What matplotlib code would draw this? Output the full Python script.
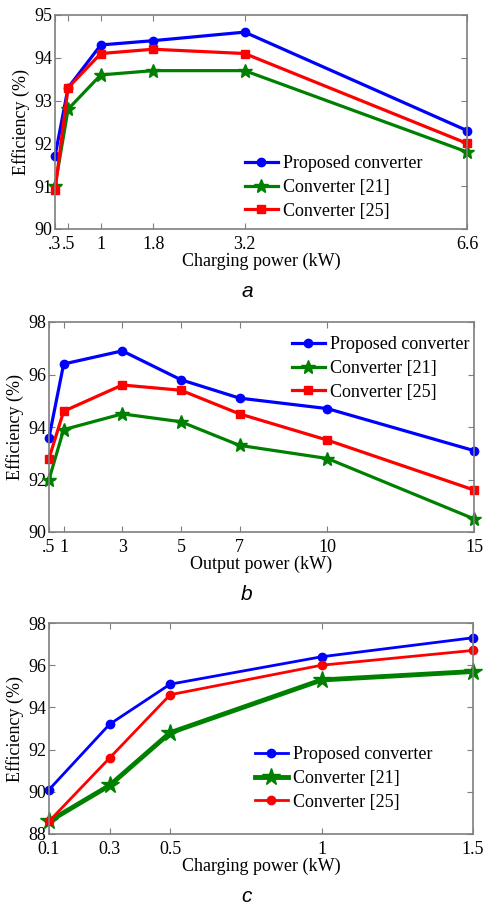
import matplotlib
matplotlib.use("Agg")
import matplotlib.pyplot as plt

plt.rcParams["font.family"] = ["Liberation Serif", "DejaVu Serif"]
plt.rcParams["font.size"] = 13

# panel a
xa = [0.3, 0.5, 1, 1.8, 3.2, 6.6]
xa_labels = [".3", ".5", "1", "1.8", "3.2", "6.6"]
prop_a = [91.7, 93.3, 94.3, 94.4, 94.6, 92.3]
c21_a = [91.0, 92.8, 93.6, 93.7, 93.7, 91.8]
c25_a = [90.9, 93.3, 94.1, 94.2, 94.1, 92.0]

# panel b
xb = [0.5, 1, 3, 5, 7, 10, 15]
xb_labels = [".5", "1", "3", "5", "7", "10", "15"]
prop_b = [93.6, 96.4, 96.9, 95.8, 95.1, 94.7, 93.1]
c21_b = [92.0, 93.9, 94.5, 94.2, 93.3, 92.8, 90.5]
c25_b = [92.8, 94.6, 95.6, 95.4, 94.5, 93.5, 91.6]

# panel c
xc = [0.1, 0.3, 0.5, 1, 1.5]
xc_labels = ["0.1", "0.3", "0.5", "1", "1.5"]
prop_c = [90.1, 93.2, 95.1, 96.4, 97.3]
c21_c = [88.6, 90.3, 92.8, 95.3, 95.7]
c25_c = [88.6, 91.6, 94.6, 96.0, 96.7]

labels = ["Proposed converter", "Converter [21]", "Converter [25]"]
W, H = 484, 907

fig = plt.figure(figsize=(W / 100, H / 100), dpi=100)


def box(l, t, r, b):
    return [l / W, 1 - b / H, (r - l) / W, (b - t) / H]


def style(ax):
    for s in ax.spines.values():
        s.set_color("#7f7f7f")
        s.set_linewidth(1.2)
    ax.tick_params(direction="in", top=True, right=True, color="#7f7f7f",
                   length=4, labelsize=13)
    ax.tick_params(axis="x", pad=5)
    ax.tick_params(axis="y", pad=2)


def add_legend(ax, x, y):
    ax.legend(loc="upper left", bbox_to_anchor=(x / W, 1 - y / H),
              bbox_transform=fig.transFigure, frameon=False, fontsize=13,
              borderpad=0, handlelength=1.8, handletextpad=0.3,
              labelspacing=0.38)


# a
ax = fig.add_axes(box(55, 15, 467, 229))
ax.plot(xa, prop_a, "-o", color="b", lw=2.3, ms=6, label=labels[0], clip_on=False)
ax.plot(xa, c21_a, "-*", color="g", lw=2.3, ms=10, label=labels[1], clip_on=False)
ax.plot(xa, c25_a, "-s", color="r", lw=2.3, ms=5.5, label=labels[2], clip_on=False)
ax.set_xlim(0.3, 6.6)
ax.set_ylim(90, 95)
ax.set_xticks(xa)
ax.set_xticklabels(xa_labels)
ax.set_yticks(range(90, 96))
ax.set_xlabel("Charging power (kW)", labelpad=0)
ax.set_ylabel("Efficiency (%)", labelpad=3)
style(ax)
add_legend(ax, 236, 146)
fig.text(247 / W, 1 - 292 / H, "a", family="Liberation Sans", style="italic",
         fontsize=15, ha="center", va="center")

# b
ax = fig.add_axes(box(49, 322, 474, 532))
ax.plot(xb, prop_b, "-o", color="b", lw=2.3, ms=6, label=labels[0], clip_on=False)
ax.plot(xb, c21_b, "-*", color="g", lw=2.3, ms=10, label=labels[1], clip_on=False)
ax.plot(xb, c25_b, "-s", color="r", lw=2.3, ms=5.5, label=labels[2], clip_on=False)
ax.set_xlim(0.5, 15)
ax.set_ylim(90, 98)
ax.set_xticks(xb)
ax.set_xticklabels(xb_labels)
ax.set_yticks(range(90, 99, 2))
ax.set_xlabel("Output power (kW)", labelpad=0)
ax.set_ylabel("Efficiency (%)", labelpad=3)
style(ax)
add_legend(ax, 283, 327)
fig.text(247 / W, 1 - 595 / H, "b", family="Liberation Sans", style="italic",
         fontsize=15, ha="center", va="center")

# c
ax = fig.add_axes(box(49, 623, 473, 834))
ax.plot(xc, prop_c, "-o", color="b", lw=2.0, ms=6, label=labels[0], clip_on=False)
ax.plot(xc, c21_c, "-*", color="g", lw=3.5, ms=13, label=labels[1], clip_on=False)
ax.plot(xc, c25_c, "-o", color="r", lw=2.0, ms=6, label=labels[2], clip_on=False)
ax.set_xlim(0.1, 1.5)
ax.set_ylim(88, 98)
ax.set_xticks(xc)
ax.set_xticklabels(xc_labels)
ax.set_yticks(range(88, 99, 2))
ax.set_xlabel("Charging power (kW)", labelpad=0)
ax.set_ylabel("Efficiency (%)", labelpad=3)
style(ax)
add_legend(ax, 246, 737)
fig.text(247 / W, 1 - 896 / H, "c", family="Liberation Sans", style="italic",
         fontsize=15, ha="center", va="center")

fig.savefig("out.png", dpi=100)
